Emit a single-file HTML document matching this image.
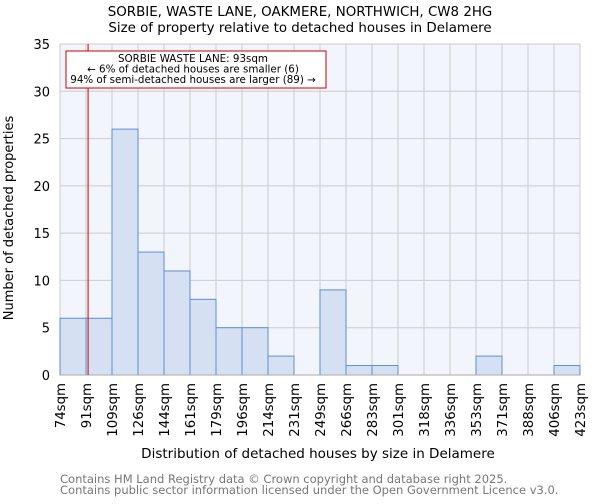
<!DOCTYPE html>
<html><head><meta charset="utf-8"><style>
body{margin:0;background:#fff;font-family:"DejaVu Sans","Liberation Sans",sans-serif}
svg text{font-family:"DejaVu Sans","Liberation Sans",sans-serif}
</style></head><body>
<svg id="chart" width="600" height="500">
<text x="300" y="16" text-anchor="middle" font-size="13.4">SORBIE, WASTE LANE, OAKMERE, NORTHWICH, CW8 2HG</text>
<text x="300" y="32" text-anchor="middle" font-size="13.4">Size of property relative to detached houses in Delamere</text>
<rect x="60" y="44" width="520" height="331" fill="#f2f5fc"/>
<g id="grid"></g>
<g id="bars"></g>
<g id="axes"></g>
<line id="marker" y1="44" y2="375" stroke="#cc0000" stroke-width="1"/>
<rect x="66" y="51" width="260" height="37" fill="#fff" stroke="#cc0000" stroke-width="1"/>
<text x="193" y="62" text-anchor="middle" font-size="10.3">SORBIE WASTE LANE: 93sqm</text>
<text x="193" y="72.5" text-anchor="middle" font-size="10.3">← 6% of detached houses are smaller (6)</text>
<text x="193" y="83" text-anchor="middle" font-size="10.3">94% of semi-detached houses are larger (89) →</text>
<text x="318" y="458" text-anchor="middle" font-size="13.5">Distribution of detached houses by size in Delamere</text>
<text transform="translate(13,218) rotate(-90)" text-anchor="middle" font-size="13">Number of detached properties</text>
<text x="60" y="483" font-size="11.5" fill="#777">Contains HM Land Registry data © Crown copyright and database right 2025.</text>
<text x="60" y="494" font-size="11.5" fill="#777">Contains public sector information licensed under the Open Government Licence v3.0.</text>
</svg>
<script>
const binLabels=["74sqm","91sqm","109sqm","126sqm","144sqm","161sqm","179sqm","196sqm","214sqm","231sqm","249sqm","266sqm","283sqm","301sqm","318sqm","336sqm","353sqm","371sqm","388sqm","406sqm","423sqm"];
const counts=[6,6,26,13,11,8,5,5,2,0,9,1,1,0,0,0,2,0,0,1];
const yTicks=[0,5,10,15,20,25,30,35];
const markerValue=1.08;
const NS="http://www.w3.org/2000/svg";
const L=60,R=580,T=44,B=375,yMax=35;
const bw=(R-L)/counts.length;
const xs=i=>L+i*bw;
const ys=v=>B-v/yMax*(B-T);
function mk(t,p,a){const e=document.createElementNS(NS,t);for(const k in a)e.setAttribute(k,a[k]);p.appendChild(e);return e;}
const grid=document.getElementById('grid'),bars=document.getElementById('bars'),axes=document.getElementById('axes');
yTicks.forEach(v=>{
 const g=mk('line',grid,{x1:L,x2:R,y1:ys(v),y2:ys(v),stroke:'#cccccc','stroke-width':1});
 
 
 const t=mk('text',axes,{x:L-10,y:ys(v)+5,'text-anchor':'end','font-size':13});
 t.textContent=v;
 
 
});
binLabels.forEach((lb,i)=>{
 const g=mk('line',grid,{x1:xs(i),x2:xs(i),y1:T,y2:B,stroke:'#cccccc','stroke-width':1});
 
 
 const t=mk('text',axes,{transform:`translate(${xs(i)+5},${B+8}) rotate(-90)`,'text-anchor':'end','font-size':13.3});
 t.textContent=lb;
 
 
});
counts.forEach((c,i)=>{
 if(c<=0)return;
 const r=mk('rect',bars,{x:xs(i),y:ys(c),width:bw,height:B-ys(c),fill:'#d6e0f3',stroke:'#5b8fd6','stroke-width':1});
 
 
});
const ax=mk('line',axes,{x1:L,x2:R,y1:B,y2:B,stroke:'#aaaaaa','stroke-width':1});


const m=document.getElementById('marker');
m.setAttribute('x1',xs(markerValue));m.setAttribute('x2',xs(markerValue));
</script>
</body></html>
